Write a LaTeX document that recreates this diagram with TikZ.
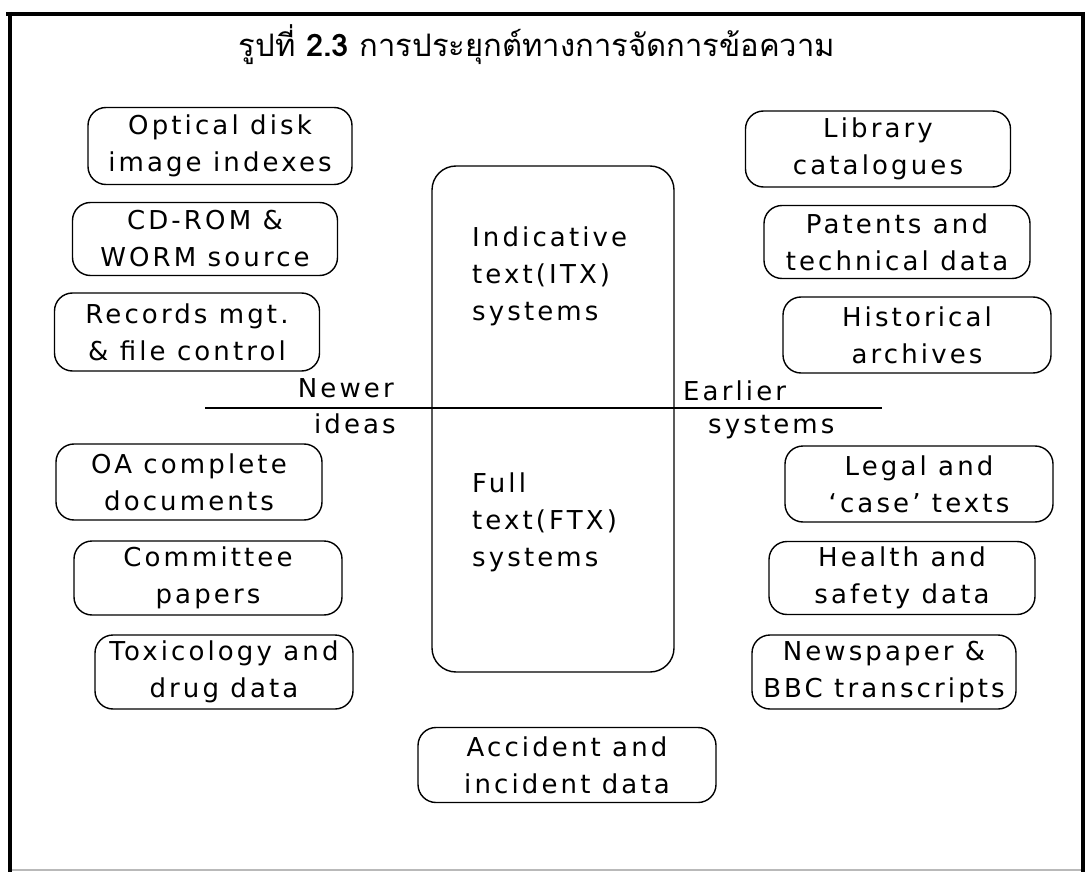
\documentclass[tikz,border=0pt]{standalone}
\usepackage{fontspec}
\setmainfont{DejaVu Sans}
\newfontfamily\boxfont[LetterSpace=12,Ligatures=TeX]{DejaVu Sans}
\newfontfamily\thaifont[Script=Thai]{Loma}
\begin{document}
\begin{tikzpicture}[x=1pt,y=-1pt,
  box/.style={draw, line width=1.4pt, rounded corners=18pt, align=center, inner sep=0pt,
    font=\boxfont\fontsize{26}{37}\selectfont},
  bigbox/.style={draw, line width=1.4pt, rounded corners=24pt, inner sep=0pt},
  txt/.style={inner sep=0pt, align=left, font=\boxfont\fontsize{26}{37}\selectfont},
  rule/.style={line width=1.4pt},
  frameline/.style={line width=4.5pt}]
\useasboundingbox (0,0) rectangle (1088,872);
% frame
\coordinate (f1) at (6,14);
\coordinate (f2) at (1085,14);
\coordinate (f3) at (10,12);
\coordinate (f4) at (10,872);
\coordinate (f5) at (1083,12);
\coordinate (f6) at (1083,872);
\coordinate (f7) at (12,870);
\coordinate (f8) at (1081,870);
\draw[frameline] (f1) -- (f2);
\draw[frameline] (f3) -- (f4);
\draw[frameline] (f5) -- (f6);
\draw[gray!55, line width=1.5pt] (f7) -- (f8);
% title
\node[inner sep=0pt] (title) at (537,45)
  {\thaifont\fontsize{31}{36}\selectfont รูปที่ {\bfseries 2.3} การประยุกต์ทางการจัดการข้อความ};
% left column
\node[box, minimum width=264pt, minimum height=77pt] (optical) at (220,146) {Optical disk\\image indexes};
\node[box, minimum width=265pt, minimum height=73pt] (cdrom) at (205,239) {CD-ROM \&\\WORM source};
\node[box, minimum width=265pt, minimum height=78pt] (records) at (187,332) {Records mgt.\\\& file control};
\node[box, minimum width=266pt, minimum height=76pt] (oa) at (189,482) {OA complete\\documents};
\node[box, minimum width=268pt, minimum height=74pt] (committee) at (208,578) {Committee\\papers};
\node[box, minimum width=258pt, minimum height=74pt] (toxic) at (224,672) {Toxicology and\\drug data};
% right column
\node[box, minimum width=265pt, minimum height=76pt] (library) at (878,149) {Library\\catalogues};
\node[box, minimum width=266pt, minimum height=73pt] (patents) at (897,242) {Patents and\\technical data};
\node[box, minimum width=268pt, minimum height=76pt] (historical) at (917,335) {Historical\\archives};
\node[box, minimum width=268pt, minimum height=76pt] (legal) at (919,484) {Legal and\\‘case’ texts};
\node[box, minimum width=266pt, minimum height=73pt] (health) at (902,578) {Health and\\safety data};
\node[box, minimum width=264pt, minimum height=74pt] (newspaper) at (884,672) {Newspaper \&\\BBC transcripts};
% bottom
\node[box, minimum width=298pt, minimum height=75pt] (accident) at (567,765) {Accident and\\incident data};
% centre
\node[bigbox, minimum width=242pt, minimum height=506pt] (centre) at (553,419) {};
\node[txt, anchor=west] (itx) at (472,276) {Indicative\\text(ITX)\\systems};
\node[txt, anchor=west] (ftx) at (472,522) {Full\\text(FTX)\\systems};
% divider
\coordinate (dl) at (205,408);
\coordinate (dr) at (882,408);
\draw[rule] (dl) -- (dr);
\node[txt, anchor=east] (newer) at (394,388) {Newer};
\node[txt, anchor=east] (ideas) at (396,424) {ideas};
\node[txt, anchor=west] (earlier) at (683,391) {Earlier};
\node[txt, anchor=west] (systems) at (708,427) {systems};
\end{tikzpicture}
\end{document}
